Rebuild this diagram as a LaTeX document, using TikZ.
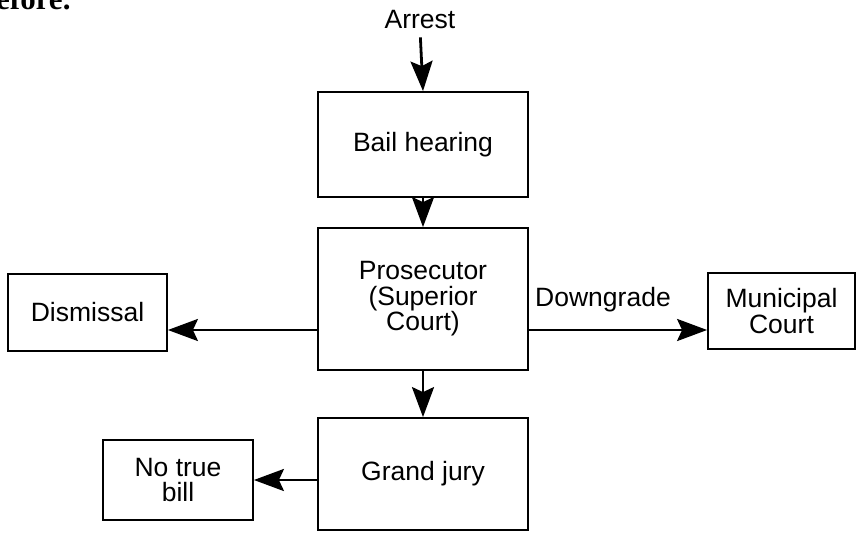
\documentclass[tikz,border=0pt]{standalone}
\usepackage{fontspec}
\setmainfont{Liberation Sans}
\newfontfamily\headfont{Liberation Serif}
\usetikzlibrary{arrows.meta}
\tikzset{
  box/.style={draw, line width=1.8pt, align=center, inner sep=0pt},
  lbl/.style={align=center, inner sep=0pt},
  arr/.style={line width=2.8pt, -{Stealth[length=30pt, width=22pt, inset=5pt]}},
}
\begin{document}
\begin{tikzpicture}[x=1pt, y=-1pt, font=\fontsize{26.5}{25.5}\selectfont]
\useasboundingbox (0,0) rectangle (857,533);
\clip (0,0) rectangle (857,533);
\node[anchor=base west, inner sep=0pt, font=\headfont\bfseries\fontsize{31}{31}\selectfont] (hd) at (-4,9.5) {efore.};
\node[lbl] (arrest) at (420,20) {Arrest};
\node[box, minimum width=210pt, minimum height=105pt] (bail) at (423,144.5) {Bail hearing};
\node[box, minimum width=210pt, minimum height=142pt] (pros) at (423,299) {Prosecutor\\(Superior\\Court)};
\node[box, minimum width=210pt, minimum height=112pt] (gj) at (423,474) {Grand jury};
\node[box, minimum width=159pt, minimum height=77pt] (dism) at (87.5,312.5) {Dismissal};
\node[box, minimum width=147pt, minimum height=76pt] (muni) at (781.5,311) {Municipal\\Court};
\node[box, minimum width=150pt, minimum height=80pt] (ntb) at (178,480) {No true\\bill};
\node[lbl] (down) at (603,300) {Downgrade};
\draw[arr, shorten <=8pt] (arrest.south) -- (bail.north);
\draw[arr] (bail.south) -- (pros.north);
\draw[arr] (pros.south) -- (gj.north);
\path ([yshift=-31pt]pros.west) coordinate (pw) ([yshift=-31pt]pros.east) coordinate (pe);
\draw[arr] (pw) -- (dism.east |- pw);
\draw[arr] (pe) -- (muni.west |- pe);
\draw[arr] (gj.west |- ntb.east) -- (ntb.east);
\end{tikzpicture}
\end{document}
